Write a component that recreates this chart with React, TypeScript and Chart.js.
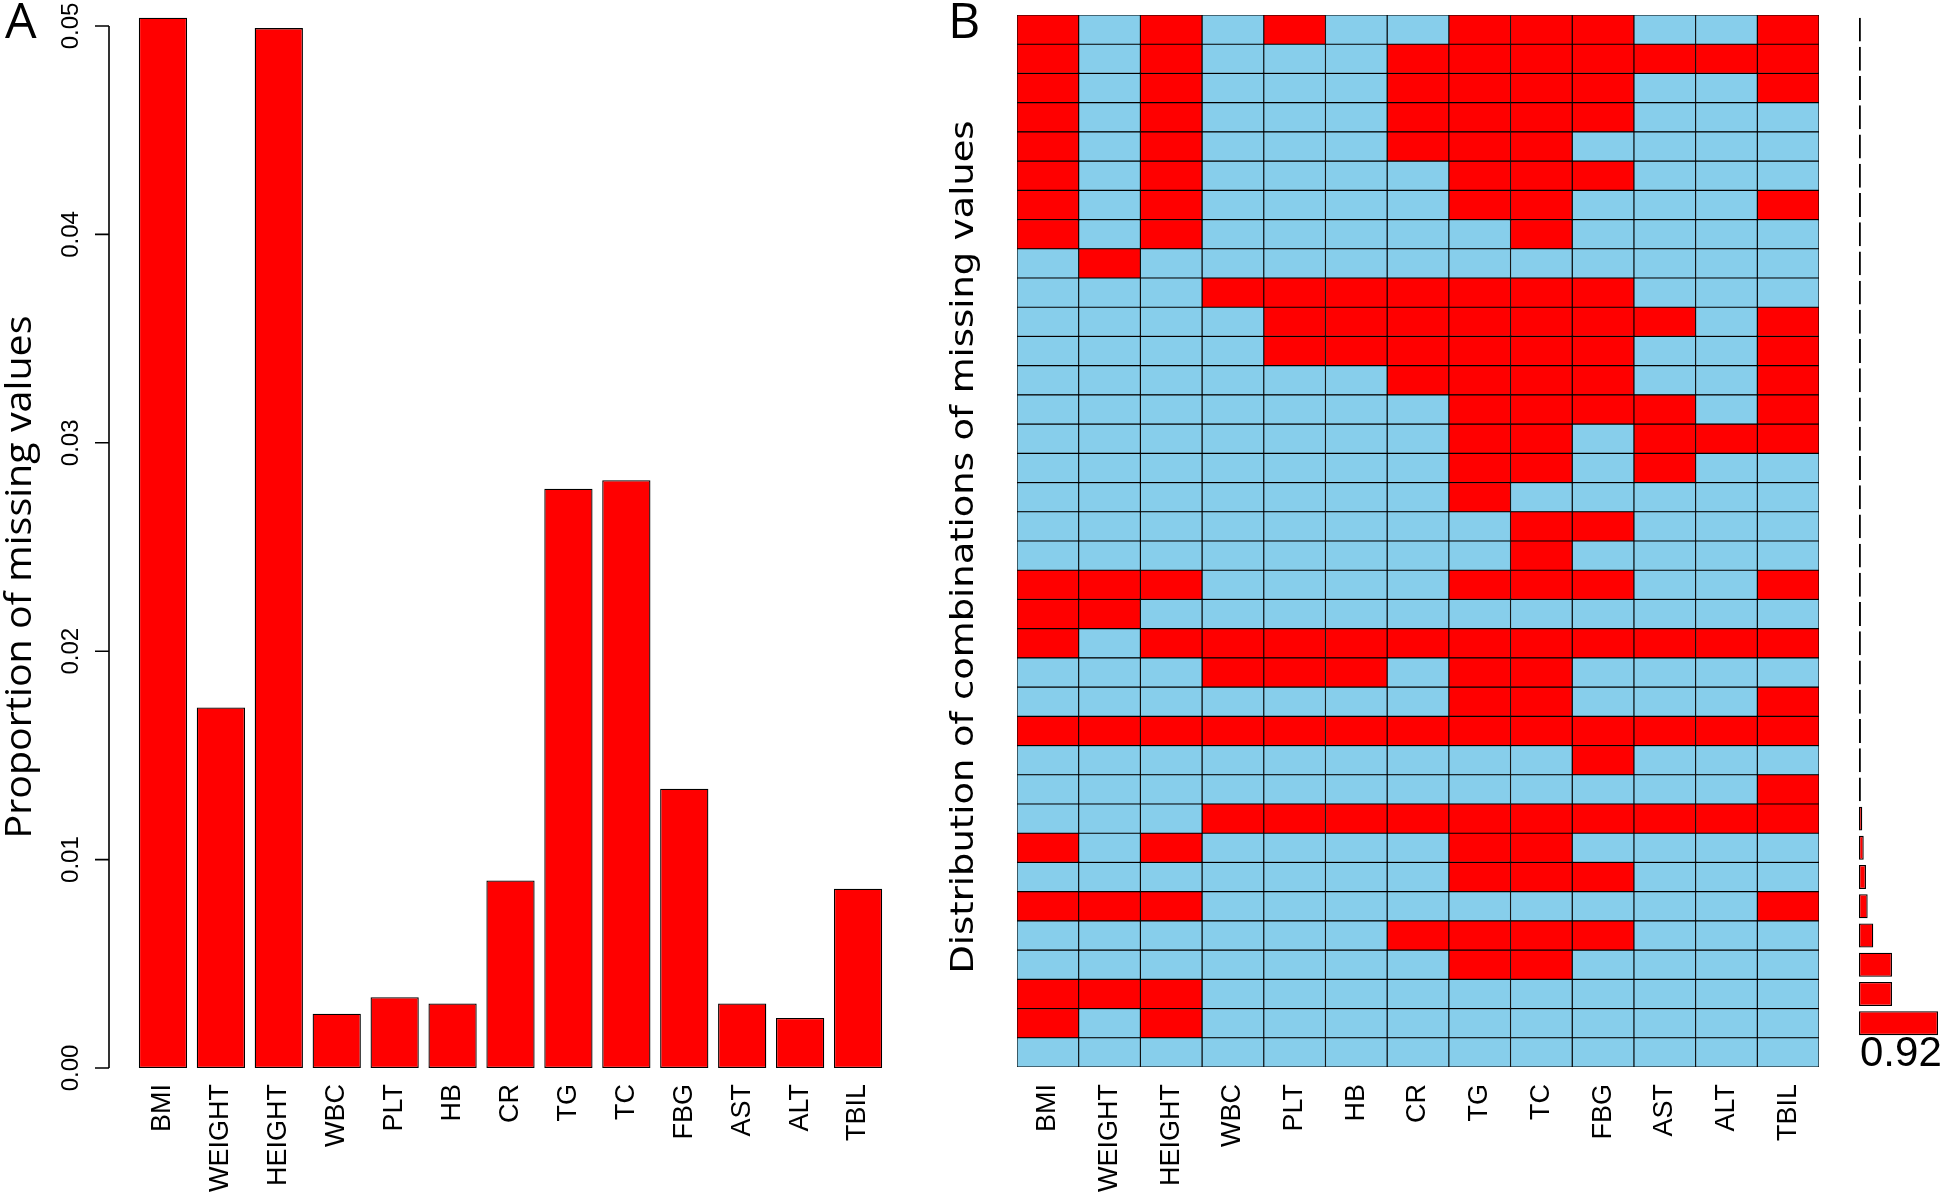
import React, { useEffect, useRef } from 'react';
import { Chart, registerables } from 'chart.js';

Chart.register(...registerables);

// ---------------- data ----------------
const variables = ['BMI', 'WEIGHT', 'HEIGHT', 'WBC', 'PLT', 'HB', 'CR', 'TG', 'TC', 'FBG', 'AST', 'ALT', 'TBIL'];

const missingProportion = [0.0504, 0.0173, 0.0499, 0.0026, 0.0034, 0.0031, 0.009, 0.0278, 0.0282, 0.0134, 0.0031, 0.0024, 0.0086];

const yTickValues = [0, 0.01, 0.02, 0.03, 0.04, 0.05];
const yTickLabels = ['0.00', '0.01', '0.02', '0.03', '0.04', '0.05'];

// 1 = missing (red), 0 = observed (blue); rows top -> bottom
const missingPatterns = [
  [1, 0, 1, 0, 1, 0, 0, 1, 1, 1, 0, 0, 1],
  [1, 0, 1, 0, 0, 0, 1, 1, 1, 1, 1, 1, 1],
  [1, 0, 1, 0, 0, 0, 1, 1, 1, 1, 0, 0, 1],
  [1, 0, 1, 0, 0, 0, 1, 1, 1, 1, 0, 0, 0],
  [1, 0, 1, 0, 0, 0, 1, 1, 1, 0, 0, 0, 0],
  [1, 0, 1, 0, 0, 0, 0, 1, 1, 1, 0, 0, 0],
  [1, 0, 1, 0, 0, 0, 0, 1, 1, 0, 0, 0, 1],
  [1, 0, 1, 0, 0, 0, 0, 0, 1, 0, 0, 0, 0],
  [0, 1, 0, 0, 0, 0, 0, 0, 0, 0, 0, 0, 0],
  [0, 0, 0, 1, 1, 1, 1, 1, 1, 1, 0, 0, 0],
  [0, 0, 0, 0, 1, 1, 1, 1, 1, 1, 1, 0, 1],
  [0, 0, 0, 0, 1, 1, 1, 1, 1, 1, 0, 0, 1],
  [0, 0, 0, 0, 0, 0, 1, 1, 1, 1, 0, 0, 1],
  [0, 0, 0, 0, 0, 0, 0, 1, 1, 1, 1, 0, 1],
  [0, 0, 0, 0, 0, 0, 0, 1, 1, 0, 1, 1, 1],
  [0, 0, 0, 0, 0, 0, 0, 1, 1, 0, 1, 0, 0],
  [0, 0, 0, 0, 0, 0, 0, 1, 0, 0, 0, 0, 0],
  [0, 0, 0, 0, 0, 0, 0, 0, 1, 1, 0, 0, 0],
  [0, 0, 0, 0, 0, 0, 0, 0, 1, 0, 0, 0, 0],
  [1, 1, 1, 0, 0, 0, 0, 1, 1, 1, 0, 0, 1],
  [1, 1, 0, 0, 0, 0, 0, 0, 0, 0, 0, 0, 0],
  [1, 0, 1, 1, 1, 1, 1, 1, 1, 1, 1, 1, 1],
  [0, 0, 0, 1, 1, 1, 0, 1, 1, 0, 0, 0, 0],
  [0, 0, 0, 0, 0, 0, 0, 1, 1, 0, 0, 0, 1],
  [1, 1, 1, 1, 1, 1, 1, 1, 1, 1, 1, 1, 1],
  [0, 0, 0, 0, 0, 0, 0, 0, 0, 1, 0, 0, 0],
  [0, 0, 0, 0, 0, 0, 0, 0, 0, 0, 0, 0, 1],
  [0, 0, 0, 1, 1, 1, 1, 1, 1, 1, 1, 1, 1],
  [1, 0, 1, 0, 0, 0, 0, 1, 1, 0, 0, 0, 0],
  [0, 0, 0, 0, 0, 0, 0, 1, 1, 1, 0, 0, 0],
  [1, 1, 1, 0, 0, 0, 0, 0, 0, 0, 0, 0, 1],
  [0, 0, 0, 0, 0, 0, 1, 1, 1, 1, 0, 0, 0],
  [0, 0, 0, 0, 0, 0, 0, 1, 1, 0, 0, 0, 0],
  [1, 1, 1, 0, 0, 0, 0, 0, 0, 0, 0, 0, 0],
  [1, 0, 1, 0, 0, 0, 0, 0, 0, 0, 0, 0, 0],
  [0, 0, 0, 0, 0, 0, 0, 0, 0, 0, 0, 0, 0],
];

const rowLabels = ['1', '2', '3', '4', '5', '6', '7', '8', '9', '10', '11', '12', '13', '14', '15', '16', '17', '18', '19', '20', '21', '22', '23', '24', '25', '26', '27', '28', '29', '30', '31', '32', '33', '34', '35', '36'];

// bar lengths of the combination bar chart, read per row slot (top -> bottom)
const combinationBars = [
  0.022, 0.022, 0.022, 0.022, 0.022, 0.022, 0.022, 0.022, 0.022, 0.022,
  0.022, 0.022, 0.022, 0.022, 0.022, 0.022, 0.022, 0.022, 0.022, 0.022,
  0.022, 0.022, 0.022, 0.022, 0.022, 0.022, 0.022,
  0.038, 0.055, 0.081, 0.101, 0.166, 0.384, 0.384, 0.92, null,
];
const combinationMax = 0.92;
const combinationLabel = '0.92';

const titleA = 'Proportion of missing values';
const titleB = 'Distribution of combinations of missing values';
const letterA = 'A';
const letterB = 'B';

const RED = '#FF0000';
const BLUE = '#87CEEB';

// ---------------- helpers ----------------
function rotText(ctx: CanvasRenderingContext2D, text: string, x: number, y: number, font: string,
  align: CanvasTextAlign, baseline: CanvasTextBaseline, targetLen?: number) {
  ctx.save();
  ctx.font = font;
  ctx.translate(x, y);
  ctx.rotate(-Math.PI / 2);
  if (targetLen) {
    const w = ctx.measureText(text).width;
    ctx.scale(targetLen / w, 1);
  }
  ctx.textAlign = align;
  ctx.textBaseline = baseline;
  ctx.fillStyle = '#000';
  ctx.fillText(text, 0, 0);
  ctx.restore();
}

const LABEL_FONT = '27px "Liberation Sans", Arial, sans-serif';
const LABEL_TOP = 1084;

const panelAPlugin = {
  id: 'panelA',
  afterDraw(chart: any) {
    const ctx: CanvasRenderingContext2D = chart.ctx;
    const xs = chart.scales.x;
    const ys = chart.scales.y;
    const axisX = 109;
    ctx.save();
    ctx.strokeStyle = '#000';
    ctx.lineWidth = 1.6;
    ctx.beginPath();
    ctx.moveTo(axisX, ys.getPixelForValue(yTickValues[0]));
    ctx.lineTo(axisX, ys.getPixelForValue(yTickValues[yTickValues.length - 1]));
    yTickValues.forEach((v) => {
      const py = ys.getPixelForValue(v);
      ctx.moveTo(axisX, py);
      ctx.lineTo(axisX - 14, py);
    });
    ctx.stroke();
    ctx.restore();
    yTickValues.forEach((v, i) => {
      rotText(ctx, yTickLabels[i], 71, ys.getPixelForValue(v), '24px "Liberation Sans", Arial, sans-serif', 'center', 'middle');
    });
    variables.forEach((v, i) => {
      rotText(ctx, v, xs.getPixelForValue(i), LABEL_TOP, LABEL_FONT, 'right', 'middle');
    });
    rotText(ctx, titleA, 20, 577, '37px "Open Sans", sans-serif', 'center', 'middle', 523);
    ctx.save();
    ctx.font = '50px "Open Sans", sans-serif';
    ctx.fillStyle = '#000';
    ctx.textBaseline = 'top';
    ctx.textAlign = 'left';
    ctx.fillText(letterA, 5, -1);
    ctx.restore();
  },
};

const panelBPlugin = {
  id: 'panelB',
  afterDraw(chart: any) {
    const ctx: CanvasRenderingContext2D = chart.ctx;
    const xs = chart.scales.x;
    variables.forEach((v, i) => {
      rotText(ctx, v, xs.getPixelForValue(i + 0.5), LABEL_TOP, LABEL_FONT, 'right', 'middle');
    });
    rotText(ctx, titleB, 25, 547, '32px "DejaVu Sans", sans-serif', 'center', 'middle', 853);
    ctx.save();
    ctx.font = '50px "Open Sans", sans-serif';
    ctx.fillStyle = '#000';
    ctx.textBaseline = 'top';
    ctx.textAlign = 'left';
    ctx.fillText(letterB, 8, -1);
    ctx.restore();
  },
};

const comboPlugin = {
  id: 'comboLabel',
  afterDraw(chart: any) {
    const ctx: CanvasRenderingContext2D = chart.ctx;
    const xs = chart.scales.x;
    const ys = chart.scales.y;
    ctx.save();
    ctx.font = '42px "Liberation Sans", Arial, sans-serif';
    ctx.fillStyle = '#000';
    ctx.textAlign = 'left';
    ctx.textBaseline = 'middle';
    ctx.fillText(combinationLabel, xs.getPixelForValue(0) + 1, ys.getPixelForValue(rowLabels.length - 1) + 2);
    ctx.restore();
  },
};

const baseOpts = {
  responsive: false,
  animation: false as const,
  events: [] as any[],
  plugins: { legend: { display: false }, tooltip: { enabled: false } },
};

export default function App() {
  const refA = useRef<HTMLCanvasElement>(null);
  const refB = useRef<HTMLCanvasElement>(null);
  const refC = useRef<HTMLCanvasElement>(null);

  useEffect(() => {
    const chartA = new Chart(refA.current!, {
      type: 'bar',
      data: {
        labels: variables,
        datasets: [{
          data: missingProportion,
          backgroundColor: RED,
          borderColor: '#000',
          borderWidth: 1.3,
          borderSkipped: false,
          barPercentage: 0.833,
          categoryPercentage: 1,
          clip: false,
        } as any],
      },
      options: {
        ...baseOpts,
        layout: { padding: { left: 134, right: 53, top: 26, bottom: 132 } },
        scales: {
          x: { display: false },
          y: { display: false, min: 0, max: 0.05 },
        },
      } as any,
      plugins: [panelAPlugin],
    });

    const chartB = new Chart(refB.current!, {
      type: 'bar',
      data: {
        labels: rowLabels,
        datasets: variables.map((v, j) => ({
          label: v,
          data: missingPatterns.map(() => 1),
          backgroundColor: missingPatterns.map((r) => (r[j] ? RED : BLUE)),
          borderColor: '#000',
          borderWidth: 0.9,
          borderSkipped: false,
          barPercentage: 1,
          categoryPercentage: 1,
          stack: 'cells',
        })) as any,
      },
      options: {
        ...baseOpts,
        indexAxis: 'y',
        layout: { padding: { left: 77, right: 11, top: 15, bottom: 133 } },
        scales: {
          x: { display: false, stacked: true, min: 0, max: variables.length },
          y: { display: false, stacked: true },
        },
      } as any,
      plugins: [panelBPlugin],
    });

    const chartC = new Chart(refC.current!, {
      type: 'bar',
      data: {
        labels: rowLabels,
        datasets: [{
          data: combinationBars,
          backgroundColor: RED,
          borderColor: '#000',
          borderWidth: 1.3,
          borderSkipped: false,
          barPercentage: 0.82,
          categoryPercentage: 1,
          clip: false,
        } as any],
      },
      options: {
        ...baseOpts,
        indexAxis: 'y',
        layout: { padding: { left: 29, right: 6, top: 15, bottom: 133 } },
        scales: {
          x: { display: false, min: 0, max: combinationMax },
          y: { display: false },
        },
      } as any,
      plugins: [comboPlugin],
    });

    return () => {
      chartA.destroy();
      chartB.destroy();
      chartC.destroy();
    };
  }, []);

  return (
    <div style={{ position: 'absolute', left: 0, top: 0, width: 1944, height: 1200, background: '#fff' }}>
      <canvas ref={refA} width={940} height={1200} style={{ position: 'absolute', left: 0, top: 0 }} />
      <canvas ref={refB} width={890} height={1200} style={{ position: 'absolute', left: 940, top: 0 }} />
      <canvas ref={refC} width={114} height={1200} style={{ position: 'absolute', left: 1830, top: 0 }} />
    </div>
  );
}
